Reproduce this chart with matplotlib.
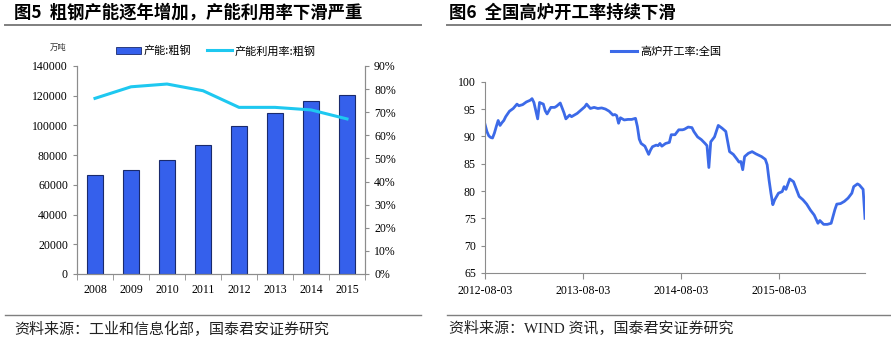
import matplotlib
matplotlib.use("Agg")
import matplotlib.pyplot as plt
import matplotlib.dates as mdates
from matplotlib.lines import Line2D
from matplotlib.patches import Patch
import pandas as pd

plt.rcParams['font.family'] = ['Liberation Serif', 'Noto Sans CJK SC']

# ---- left chart data: crude steel capacity and utilisation ----
years = ['2008', '2009', '2010', '2011', '2012', '2013', '2014', '2015']
capacity = [66500, 70000, 76500, 86600, 99600, 108200, 116300, 120200]   # 万吨
utilisation = [76.0, 81.0, 82.2, 79.3, 72.1, 72.1, 71.0, 67.1]          # %

# ---- right chart data: national blast furnace operating rate (weekly) ----
bf_dates = [
    '2012-08-03', '2012-08-10', '2012-08-17', '2012-08-24', '2012-08-31', '2012-09-07',
    '2012-09-14', '2012-09-21', '2012-09-28', '2012-10-05', '2012-10-12', '2012-10-19',
    '2012-11-02', '2012-11-16', '2012-11-30', '2012-12-07', '2012-12-21', '2013-01-04',
    '2013-01-18', '2013-01-25', '2013-02-01', '2013-02-15', '2013-02-22', '2013-03-08',
    '2013-03-15', '2013-03-22', '2013-04-05', '2013-04-19', '2013-04-26', '2013-05-10',
    '2013-05-17', '2013-05-24', '2013-05-31', '2013-06-14', '2013-06-21', '2013-06-28',
    '2013-07-12', '2013-07-26', '2013-08-09', '2013-08-16', '2013-08-30', '2013-09-13',
    '2013-09-27', '2013-10-11', '2013-10-25', '2013-11-08', '2013-11-22', '2013-11-29',
    '2013-12-06', '2013-12-13', '2013-12-20', '2014-01-03', '2014-01-17', '2014-01-31',
    '2014-02-14', '2014-02-21', '2014-02-28', '2014-03-07', '2014-03-21', '2014-04-04',
    '2014-04-11', '2014-04-18', '2014-05-02', '2014-05-09', '2014-05-16', '2014-05-23',
    '2014-06-06', '2014-06-20', '2014-06-27', '2014-07-11', '2014-07-25', '2014-08-08',
    '2014-08-15', '2014-08-29', '2014-09-12', '2014-09-19', '2014-10-03', '2014-10-17',
    '2014-10-31', '2014-11-07', '2014-11-14', '2014-11-21', '2014-12-05', '2014-12-19',
    '2015-01-02', '2015-01-16', '2015-01-30', '2015-02-13', '2015-02-27', '2015-03-06',
    '2015-03-13', '2015-03-20', '2015-03-27', '2015-04-10', '2015-04-24', '2015-05-08',
    '2015-05-29', '2015-06-12', '2015-06-19', '2015-06-26', '2015-07-03', '2015-07-10',
    '2015-07-17', '2015-07-31', '2015-08-14', '2015-08-21', '2015-08-28', '2015-09-11',
    '2015-09-25', '2015-10-02', '2015-10-16', '2015-10-30', '2015-11-13', '2015-11-27',
    '2015-12-11', '2015-12-25', '2016-01-01', '2016-01-15', '2016-01-29', '2016-02-12',
    '2016-02-26', '2016-03-04', '2016-03-18', '2016-04-01', '2016-04-15', '2016-04-29',
    '2016-05-06', '2016-05-20', '2016-05-27', '2016-06-10', '2016-06-17',
]
bf_rate = [
    92.2, 90.9, 90.1, 89.8, 89.7, 90.6,
    91.8, 92.9, 92.0, 92.5, 92.9, 93.6,
    94.6, 95.1, 95.9, 95.6, 95.8, 96.3,
    96.6, 96.9, 96.2, 93.2, 96.2, 95.9,
    94.7, 94.1, 95.3, 95.3, 95.5, 96.1,
    95.2, 94.3, 93.2, 93.9, 93.6, 93.8,
    94.2, 94.8, 95.4, 95.9, 95.1, 95.3,
    95.1, 95.2, 95.0, 94.6, 93.9, 94.0,
    93.8, 92.4, 93.4, 93.0, 93.1, 93.1,
    93.3, 91.8, 89.5, 88.7, 88.2, 86.7,
    87.5, 88.1, 88.4, 88.3, 88.7, 88.2,
    88.7, 88.9, 90.3, 90.3, 91.2, 91.2,
    91.3, 91.7, 91.6, 90.9, 89.9, 89.4,
    88.7, 88.3, 84.3, 89.0, 89.9, 92.0,
    91.5, 90.9, 87.2, 86.7, 85.8, 85.3,
    85.4, 83.9, 86.3, 86.9, 87.2, 86.8,
    86.3, 85.8, 84.8, 82.0, 79.6, 77.5,
    78.4, 79.6, 79.9, 80.8, 80.3, 82.2,
    81.7, 80.8, 79.0, 78.4, 77.6, 76.5,
    75.6, 74.1, 74.6, 73.9, 73.9, 74.1,
    76.6, 77.6, 77.7, 78.1, 78.7, 79.6,
    80.8, 81.3, 81.1, 80.3, 75.0,
]
bf_ticks = ['2012-08-03', '2013-08-03', '2014-08-03', '2015-08-03']

BAR_BLUE = '#3560ec'
CYAN = '#1ec8f0'
LINE_BLUE = '#3c6ae8'
AXIS_GREY = '#8c8c8c'
CJK = ['Noto Sans CJK SC', 'DejaVu Sans']
SERIF = ['Liberation Serif', 'Noto Sans CJK SC']

W, H = 891, 342
fig = plt.figure(figsize=(W / 100, H / 100), dpi=100)


def box(x0, y0, x1, y1):
    """pixel box (top-left origin) -> figure fraction rect"""
    return [x0 / W, 1 - y1 / H, (x1 - x0) / W, (y1 - y0) / H]


# ---- page furniture: titles, rules, sources ----
fig.text(14 / W, 1 - 13 / H, '图5  粗钢产能逐年增加，产能利用率下滑严重', family=CJK,
         fontsize=12.5, fontweight='bold', va='center', ha='left')
fig.text(449 / W, 1 - 13 / H, '图6  全国高炉开工率持续下滑', family=CJK,
         fontsize=12.5, fontweight='bold', va='center', ha='left')
for x0, x1 in [(5, 421), (447, 891)]:
    fig.add_artist(Line2D([x0 / W, x1 / W], [1 - 25 / H] * 2, color='#7f7f7f', lw=1.4))
    fig.add_artist(Line2D([x0 / W, x1 / W], [1 - 315 / H] * 2, color='#7f7f7f', lw=1.0))
fig.text(14 / W, 1 - 329 / H, '资料来源：工业和信息化部，国泰君安证券研究', family=CJK,
         fontsize=10.8, va='center', ha='left', color='#222222')
fig.text(449 / W, 1 - 329 / H, '资料来源：WIND 资讯，国泰君安证券研究', family=SERIF,
         fontsize=10.8, va='center', ha='left', color='#222222')

# ---- left chart ----
ax = fig.add_axes(box(77, 66, 365, 274))
xs = range(len(years))
ax.bar(xs, capacity, width=0.42, color=BAR_BLUE, edgecolor='#1a2a6c', linewidth=0.8,
       label='产能:粗钢', zorder=2)
ax.set_ylim(0, 140000)
ax.set_yticks(range(0, 140001, 20000))
ax.set_xlim(-0.5, len(years) - 0.5)
ax.set_xticks(list(xs))
ax.set_xticklabels(years)
ax.set_xticks([i - 0.5 for i in range(len(years) + 1)], minor=True)
ax.tick_params(axis='x', which='major', length=0, pad=7)
ax.tick_params(axis='x', which='minor', length=4, color=AXIS_GREY)
ax.tick_params(axis='y', length=3, color=AXIS_GREY)
ax.tick_params(labelsize=8.5)
ax.spines['top'].set_visible(False)
for s in ['left', 'right', 'bottom']:
    ax.spines[s].set_color(AXIS_GREY)

ax2 = ax.twinx()
ax2.plot(list(xs), utilisation, color=CYAN, lw=2.2, zorder=3)
ax2.set_ylim(0, 90)
ax2.set_yticks(range(0, 91, 10))
ax2.set_yticklabels([f'{v}%' for v in range(0, 91, 10)])
ax2.tick_params(axis='y', length=3, color=AXIS_GREY, labelsize=8.5)
ax2.spines['top'].set_visible(False)
for s in ['left', 'right', 'bottom']:
    ax2.spines[s].set_color(AXIS_GREY)

fig.text(58 / W, 1 - 47 / H, '万吨', family=CJK, fontsize=6, ha='center', va='center',
         style='italic', color='#333333')
handles = [Patch(facecolor=BAR_BLUE, edgecolor='#1a2a6c', lw=0.6),
           Line2D([], [], color=CYAN, lw=2.2)]
fig.legend(handles, ['产能:粗钢', '产能利用率:粗钢'], loc='center',
           bbox_to_anchor=(216 / W, 1 - 51 / H), ncol=2, frameon=False,
           prop={'family': CJK, 'size': 8}, handlelength=2.2, handletextpad=0.3,
           columnspacing=1.4)

# ---- right chart ----
bx = fig.add_axes(box(485, 81.7, 865, 273))
dates = pd.to_datetime(bf_dates)
bx.plot(dates, bf_rate, color=LINE_BLUE, lw=2.0)
bx.set_ylim(65, 100)
bx.set_yticks(range(65, 101, 5))
bx.set_xlim(dates[0], dates[-1])
bx.set_xticks(pd.to_datetime(bf_ticks))
bx.xaxis.set_major_formatter(mdates.DateFormatter('%Y-%m-%d'))
bx.tick_params(axis='x', length=4, color=AXIS_GREY, pad=5)
bx.tick_params(axis='y', length=3, color=AXIS_GREY)
bx.tick_params(labelsize=8.5)
for s in ['top', 'right']:
    bx.spines[s].set_visible(False)
for s in ['left', 'bottom']:
    bx.spines[s].set_color(AXIS_GREY)
fig.legend([Line2D([], [], color=LINE_BLUE, lw=2.2)], ['高炉开工率:全国'], loc='center',
           bbox_to_anchor=(666 / W, 1 - 52 / H), frameon=False,
           prop={'family': CJK, 'size': 8}, handlelength=2.4, handletextpad=0.3)

fig.savefig('out.png', dpi=100)
